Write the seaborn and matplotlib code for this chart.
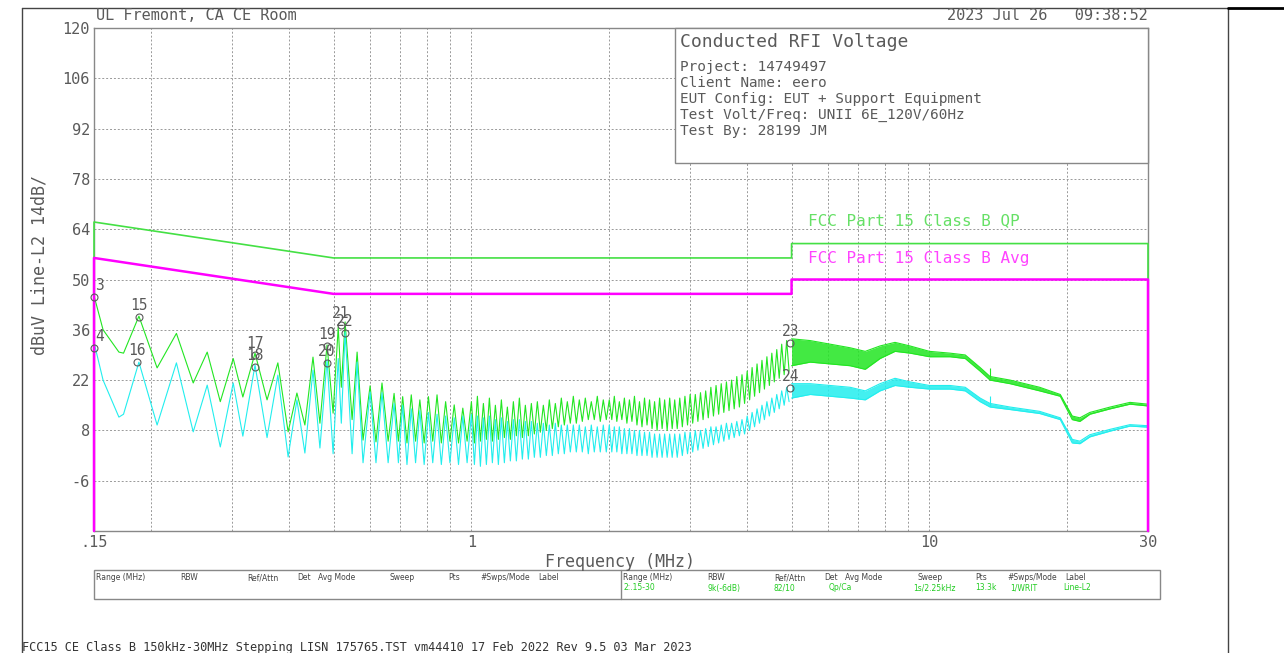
import numpy as np
import matplotlib
matplotlib.use('Agg')
import matplotlib.pyplot as plt
import seaborn as sns
from matplotlib.patches import Rectangle
from matplotlib.lines import Line2D
from matplotlib.ticker import FixedLocator, NullFormatter

# ---- values (MHz / dBuV) ----

# FCC Part 15 class B limits (drop to the floor at both ends, as the analyser draws them)
qp_limit_f = [0.15, 0.15, 0.5, 5.0, 5.0, 30.0, 30.0]
qp_limit_db = [-20, 66, 56, 56, 60, 60, -20]
avg_limit_f = [0.15, 0.15, 0.5, 5.0, 5.0, 30.0, 30.0]
avg_limit_db = [-20, 56, 46, 46, 50, 50, -20]

# low band, individual humps (peaks / troughs)
low_f = [0.150, 0.157, 0.170, 0.174, 0.188, 0.206, 0.227, 0.247, 0.265, 0.283,
         0.302, 0.317, 0.337, 0.358, 0.378, 0.398, 0.416, 0.433, 0.451, 0.467,
         0.484, 0.499, 0.512, 0.520, 0.530, 0.549, 0.563, 0.580, 0.601, 0.619,
         0.638, 0.658]
low_qp = [45.5, 36.0, 29.8, 29.5, 39.8, 25.4, 35.0, 21.2, 29.8, 16.0,
          28.0, 17.3, 29.5, 16.5, 26.8, 7.6, 18.4, 9.5, 28.4, 10.0,
          31.8, 12.8, 36.8, 20.0, 38.2, 11.0, 29.8, 5.3, 20.4, 4.8,
          21.2, 5.0]
low_avg = [32.5, 22.0, 11.7, 12.5, 27.0, 9.5, 26.8, 7.6, 20.6, 3.4,
           21.2, 6.4, 26.2, 6.0, 23.4, 0.6, 16.5, 1.7, 24.8, 3.1,
           27.6, 1.5, 28.0, 10.0, 35.4, 1.5, 27.0, -1.0, 18.7, -1.0,
           18.5, -1.0]

# dense ripple 0.68-5 MHz: sweep segments and number of ripple cycles in each
sweep_edges = [0.678, 1.0, 2.0, 2.85, 4.0, 5.0]
sweep_cycles = [9, 23, 14, 13, 9]
qp_peaks = [18.3, 17.4, 17.9, 16.5, 17.4, 17.9, 16.0, 15.1, 14.2,
            16, 17.5, 15.5, 17, 15, 16.5, 14.5, 16, 17, 15, 15.5, 16, 15, 16.5, 15.5, 17,
            16, 17.5, 16.5, 17, 16, 17.5, 16.5,
            16.5, 17.5, 16, 17, 16.5, 17.5, 16, 17, 16.5, 16, 17, 16.5, 17, 16.5,
            17, 17.5, 18, 18, 18.5, 19, 20, 20.5, 21, 21.5, 22, 23, 23.5,
            24.5, 25.5, 26.5, 27.5, 28.5, 29.5, 30.5, 32, 33]
qp_troughs = [5.0, 4.5, 5.0, 4.5, 5.0, 4.5, 5.0, 4.5, 5.0,
              4.5, 5, 5.5, 5, 5.5, 6, 5.5, 6.5, 6, 6.5, 7, 7.5, 8, 8.5, 9, 9.5,
              10, 10, 10.5, 11, 11, 10.5, 11,
              11, 10.5, 11, 10, 10.5, 9.5, 9, 9.5, 8.5, 8, 8.5, 8, 8.5, 8.5,
              9, 9.5, 10, 10.5, 11, 11.5, 12, 12.5, 13, 13.5, 14, 14.5, 15.5,
              16.5, 17.5, 18.5, 19.5, 20.5, 21.5, 22.5, 23.5, 24.5]
avg_peaks = [15.5, 15.0, 14.0, 13.5, 13.0, 12.5, 12.0, 11.5, 12.0,
             12.5, 12, 11.5, 12, 11, 11.5, 10.5, 11, 11, 10.5, 10.5, 10, 10, 9.5, 10, 9.5,
             9.5, 9.5, 9.5, 9, 9.5, 9, 9.5,
             9.5, 9, 9, 8.5, 8.5, 8, 8, 7.5, 7.5, 7, 7, 7, 7, 7,
             7, 7.5, 7.5, 8, 8, 8.5, 9, 9, 9.5, 10, 10, 10.5, 11,
             12, 13, 14, 15, 16, 17, 18, 19, 20]
avg_troughs = [-1.0, -1.5, -1.0, -1.5, -1.0, -1.5, -1.0, -1.5, -1.0,
               -1.5, -2, -1.5, -1, -1.5, -1, -0.5, -0.5, 0, 0, 0.5, 0.5, 1, 1, 1.5, 1.5,
               2, 2, 2, 1.5, 2, 2, 2,
               2, 2, 1.5, 1.5, 1.5, 1, 1, 1, 0.5, 0.5, 0.5, 0.5, 0.5, 0.5,
               1, 1.5, 2, 2.5, 3, 3.5, 4, 4.5, 5, 5.5, 6, 6.5, 7,
               8, 9, 10, 11, 12, 13, 14, 15, 16]

# 5-30 MHz: trace is a solid band, upper / lower edge
band_f = [5.0, 5.49, 6.07, 6.71, 7.24, 7.80, 8.41, 9.07, 10.0, 11.09, 11.97,
          12.9, 13.56, 15.0, 17.4, 19.3, 20.5, 21.3, 22.4, 24.8, 27.4, 30.0]
qp_band_hi = [33.5, 33, 32, 31, 30, 31.5, 32.5, 31.5, 30, 29.5, 29,
              25.5, 23, 22, 20, 18, 12, 11.5, 13, 14.5, 15.8, 15.3]
qp_band_lo = [26, 27, 26.5, 26, 25, 28, 30, 29.5, 28.5, 28.5, 28,
              24.5, 22, 21, 19, 17.5, 11, 10.5, 12.5, 14, 15.3, 14.8]
avg_band_hi = [21, 21, 20.5, 20, 19, 21, 22.5, 21.5, 20.5, 20.5, 20,
               17, 15.5, 14.5, 13.3, 11.5, 5.5, 5, 6.8, 8.3, 9.6, 9.3]
avg_band_lo = [17, 18, 17.5, 17, 16.5, 19, 20.5, 20, 19.5, 19.5, 19,
               16, 14.5, 13.8, 12.7, 11, 4.5, 4.3, 6.2, 7.8, 9.2, 8.9]
spike_f = 13.56
spike_qp = (22.5, 25.5)
spike_avg = (14.8, 17.5)

# peak markers
marker_ids = [3, 4, 15, 16, 17, 18, 19, 20, 21, 22, 23, 24]
marker_f = [0.150, 0.150, 0.188, 0.186, 0.337, 0.337, 0.484, 0.484, 0.519, 0.530, 4.97, 4.97]
marker_db = [45.0, 31.0, 39.5, 27.0, 29.0, 25.6, 31.5, 26.8, 37.3, 35.0, 32.3, 19.8]

x_major = [0.15, 1, 10, 30]
x_major_labels = ['.15', '1', '10', '30']
x_minor = [0.2, 0.3, 0.4, 0.5, 0.6, 0.7, 0.8, 0.9, 2, 3, 4, 5, 6, 7, 8, 9, 20]
y_ticks = list(range(-20, 121, 14))

info_title = 'Conducted RFI Voltage'
info_lines = ['Project: 14749497', 'Client Name: eero',
              'EUT Config: EUT + Support Equipment',
              'Test Volt/Freq: UNII 6E_120V/60Hz', 'Test By: 28199 JM']
table_cols = ['Range (MHz)', 'RBW', 'Ref/Attn', 'Det', 'Avg Mode', 'Sweep', 'Pts', '#Swps/Mode', 'Label']
table_vals = ['2:.15-30', '9k(-6dB)', '82/10', 'Qp/Ca', '1s/2.25kHz', '13.3k', '1/WRIT', 'Line-L2']

# ---- build traces ----
dense_f = np.concatenate([np.geomspace(a, b, 2 * n, endpoint=False)
                          for a, b, n in zip(sweep_edges[:-1], sweep_edges[1:], sweep_cycles)])
dense_qp = np.column_stack([qp_peaks, qp_troughs]).ravel()
dense_avg = np.column_stack([avg_peaks, avg_troughs]).ravel()
trace_f = np.concatenate([low_f, dense_f])
trace_qp = np.concatenate([low_qp, dense_qp])
trace_avg = np.concatenate([low_avg, dense_avg])

# ---- plotting ----
sns.set_style('white')
plt.rcParams['font.family'] = ['DejaVu Sans Mono', 'DejaVu Sans']

W, H = 1284, 653
GREEN = '#22e622'
CYAN = '#22eeee'
MAGENTA = '#ff00ff'
GREY = '#5a5a5a'


def fx(px):
    return px / W


def fy(py):
    return 1 - py / H


fig = plt.figure(figsize=(W / 100, H / 100), dpi=100)
ax = fig.add_axes([fx(94), fy(531), (1148 - 94) / W, (531 - 28) / H])

ax.set_xscale('log')
ax.set_xlim(0.15, 30)
ax.set_ylim(-20, 120)
ax.xaxis.set_major_locator(FixedLocator(x_major))
ax.xaxis.set_minor_locator(FixedLocator(x_minor))
ax.xaxis.set_minor_formatter(NullFormatter())
ax.set_xticklabels(x_major_labels)
ax.set_yticks(y_ticks)
ax.set_yticklabels(['' if v == -20 else str(v) for v in y_ticks])
ax.tick_params(which='both', length=0, labelsize=11, colors=GREY, pad=3)
ax.grid(which='both', color='#999999', ls=(0, (2, 2)), lw=0.7)
for s in ax.spines.values():
    s.set_color('#888888')
    s.set_linewidth(1)

# traces
sns.lineplot(x=trace_f, y=trace_qp, ax=ax, color=GREEN, lw=0.8, sort=False, estimator=None)
ax.fill_between(band_f, qp_band_lo, qp_band_hi, color=GREEN, alpha=0.85, lw=0)
sns.lineplot(x=band_f, y=qp_band_hi, ax=ax, color=GREEN, lw=0.8, sort=False, estimator=None)
sns.lineplot(x=band_f, y=qp_band_lo, ax=ax, color=GREEN, lw=0.8, sort=False, estimator=None)
ax.vlines(spike_f, *spike_qp, color=GREEN, lw=0.8)

sns.lineplot(x=trace_f, y=trace_avg, ax=ax, color=CYAN, lw=0.8, sort=False, estimator=None)
ax.fill_between(band_f, avg_band_lo, avg_band_hi, color=CYAN, alpha=0.85, lw=0)
sns.lineplot(x=band_f, y=avg_band_hi, ax=ax, color=CYAN, lw=0.8, sort=False, estimator=None)
sns.lineplot(x=band_f, y=avg_band_lo, ax=ax, color=CYAN, lw=0.8, sort=False, estimator=None)
ax.vlines(spike_f, *spike_avg, color=CYAN, lw=0.8)

# limits
ax.plot(qp_limit_f, qp_limit_db, color='#44e044', lw=1.2, clip_on=False, zorder=4)
ax.plot(avg_limit_f, avg_limit_db, color=MAGENTA, lw=1.8, clip_on=False, zorder=4)
fig.text(fx(808), fy(221), 'FCC Part 15 Class B QP', color='#66e066', fontsize=11.5, va='center')
fig.text(fx(808), fy(259), 'FCC Part 15 Class B Avg', color='#ff44ff', fontsize=11.5, va='center')

# markers (labels stack tightly, as on the analyser screen)
ax.plot(marker_f, marker_db, ls='none', marker='o', ms=5, mfc='none', mec=GREY, mew=0.8,
        clip_on=False, zorder=5)
for mid, f, db in zip(marker_ids, marker_f, marker_db):
    ha = 'left' if f <= 0.15 else 'center'
    ax.annotate(str(mid), (f, db), xytext=(1 if ha == 'left' else 0, 3), textcoords='offset points',
                ha=ha, va='bottom', fontsize=10.5, color=GREY, zorder=5)

# header texts
fig.text(fx(96), fy(16), 'UL Fremont, CA CE Room', fontsize=11, color=GREY, va='center')
fig.text(fx(1148), fy(16), '2023 Jul 26   09:38:52', fontsize=11, color=GREY, va='center', ha='right')
fig.text(fx(40), fy(265), 'dBuV Line-L2 14dB/', fontsize=12, color=GREY, rotation=90,
         va='center', ha='center')
fig.text(fx(620), fy(562), 'Frequency (MHz)', fontsize=12, color=GREY, va='center', ha='center')

# info box
fig.add_artist(Rectangle((fx(675), fy(163)), (1148 - 675) / W, (163 - 28) / H,
                         transform=fig.transFigure, facecolor='white', edgecolor='#888888',
                         lw=1, zorder=3))
fig.text(fx(680), fy(42), info_title, fontsize=13, color=GREY, va='center', zorder=4)
for i, line in enumerate(info_lines):
    fig.text(fx(680), fy(67 + 16 * i), line, fontsize=10.4, color=GREY, va='center', zorder=4)

# settings table
fig.add_artist(Rectangle((fx(94), fy(599)), (1160 - 94) / W, (599 - 570) / H,
                         transform=fig.transFigure, facecolor='none', edgecolor='#888888', lw=1))
fig.add_artist(Line2D([fx(621), fx(621)], [fy(570), fy(599)], color='#888888', lw=1))
col_off = [2, 86, 153, 203, 224, 296, 354, 386, 444]
val_off = [2, 86, 153, 208, 292, 354, 389, 442]
for x0 in (94, 621):
    for name, off in zip(table_cols, col_off):
        fig.text(fx(x0 + off), fy(578), name, fontsize=5.5, color='#444444', va='center',
                 family='DejaVu Sans')
for val, off in zip(table_vals, val_off):
    fig.text(fx(621 + off), fy(588), val, fontsize=5.5, color='#22cc22', va='center',
             family='DejaVu Sans')

# footer and page frame
fig.text(fx(22), fy(647), 'FCC15 CE Class B 150kHz-30MHz Stepping LISN 175765.TST vm44410 '
         '17 Feb 2022 Rev 9.5 03 Mar 2023', fontsize=8.6, color='#333333', va='center')
fig.add_artist(Line2D([fx(22), fx(22)], [0, fy(8)], color='#444444', lw=1))
fig.add_artist(Line2D([fx(22), fx(1228)], [fy(8), fy(8)], color='#444444', lw=1))
fig.add_artist(Line2D([fx(1228), fx(1228)], [0, fy(8)], color='#444444', lw=1))
fig.add_artist(Line2D([fx(1228), 1], [fy(8), fy(8)], color='black', lw=2))

fig.savefig('out.png', dpi=100)
